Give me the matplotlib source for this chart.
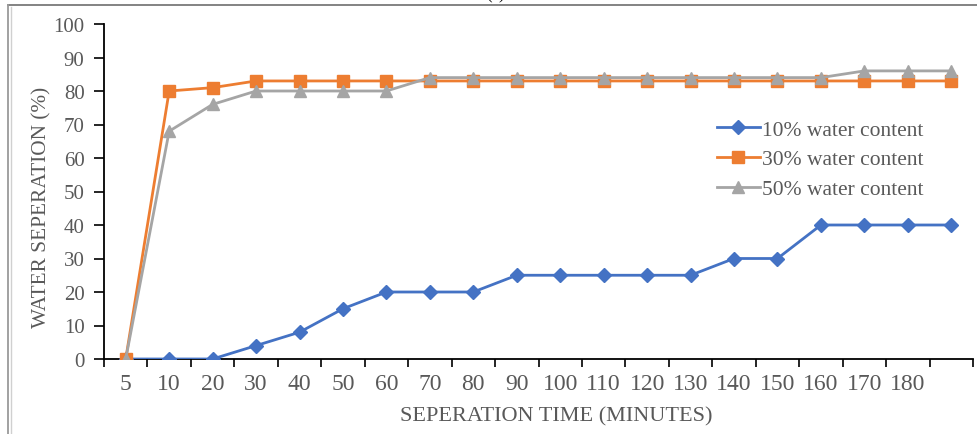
import matplotlib
matplotlib.use("Agg")
import matplotlib.pyplot as plt
from matplotlib.lines import Line2D

categories = ["5", "10", "20", "30", "40", "50", "60", "70", "80", "90", "100",
              "110", "120", "130", "140", "150", "160", "170", "180", ""]
water10 = [0, 0, 0, 4, 8, 15, 20, 20, 20, 25, 25, 25, 25, 25, 30, 30, 40, 40, 40, 40]
water30 = [0, 80, 81, 83, 83, 83, 83, 83, 83, 83, 83, 83, 83, 83, 83, 83, 83, 83, 83, 83]
water50 = [0, 68, 76, 80, 80, 80, 80, 84, 84, 84, 84, 84, 84, 84, 84, 84, 84, 86, 86, 86]
series_names = ["10% water content", "30% water content", "50% water content"]
yticks = list(range(0, 101, 10))

W, H = 978, 435
fig = plt.figure(figsize=(W / 100, H / 100), dpi=100)
plt.rcParams['font.family'] = ['Liberation Serif', 'DejaVu Serif']
txt = '#595959'

ax = fig.add_axes([104 / W, 1 - 360 / H, (973 - 104) / W, (360 - 25) / H])
x = list(range(len(categories)))

ax.plot(x, water10, color='#4472C4', lw=2.0, marker='D', ms=7.5, label=series_names[0], zorder=3)
ax.plot(x, water30, color='#ED7D31', lw=2.0, marker='s', ms=9, label=series_names[1], zorder=3)
ax.plot(x, water50, color='#A5A5A5', lw=2.0, marker='^', ms=9, label=series_names[2], zorder=4)

ax.set_xlim(-0.5, len(categories) - 0.5)
ax.set_ylim(0, 100)
ax.set_yticks(yticks)
ax.set_xticks(x)
ax.set_xticklabels(categories)
ax.set_xticks([i - 0.5 for i in range(len(categories) + 1)], minor=True)
ax.tick_params(axis='x', which='major', length=0, pad=10, labelsize=17, labelcolor=txt)
ax.tick_params(axis='x', which='minor', length=6, width=1.2, color='black', direction='out')
ax.tick_params(axis='y', length=7, width=1.2, color='black', pad=7, labelsize=15, labelcolor=txt)

for s in ['top', 'right']:
    ax.spines[s].set_visible(False)
for s in ['left', 'bottom']:
    ax.spines[s].set_linewidth(1.3)
    ax.spines[s].set_color('black')

leg = ax.legend(loc='upper left', bbox_to_anchor=((708 - 104) / (973 - 104), 1 - (112 - 25) / (360 - 25)),
                frameon=False, fontsize=15.5, handlelength=2.0, handletextpad=0.1,
                labelspacing=0.45, borderaxespad=0)
for t in leg.get_texts():
    t.set_color(txt)

fig.text(556 / W, 1 - 417 / H, "SEPERATION TIME (MINUTES)", ha='center', va='center',
         fontsize=16, color=txt)
fig.text(42 / W, 1 - 207 / H, "WATER SEPERATION (%)", ha='center', va='center',
         rotation=90, fontsize=15.3, color=txt)

# clipped panel title (cut off at the top edge, as in the reference)
fig.text(496 / W, 1.0 + 1 / H, "(a)", ha='center', va='baseline', fontsize=12, color='black')

# outer chart frame
fig.add_artist(Line2D([8 / W, 1.0], [1 - 6 / H, 1 - 6 / H], transform=fig.transFigure,
                      color='#7a7a7a', lw=1.3))
fig.add_artist(Line2D([8 / W, 8 / W], [0, 1 - 6 / H], transform=fig.transFigure,
                      color='#9a9a9a', lw=1.3))
fig.add_artist(Line2D([11 / W, 11 / W], [0, 1 - 8 / H], transform=fig.transFigure,
                      color='#d0d0d0', lw=1.0))

fig.savefig("out.png", dpi=100)
